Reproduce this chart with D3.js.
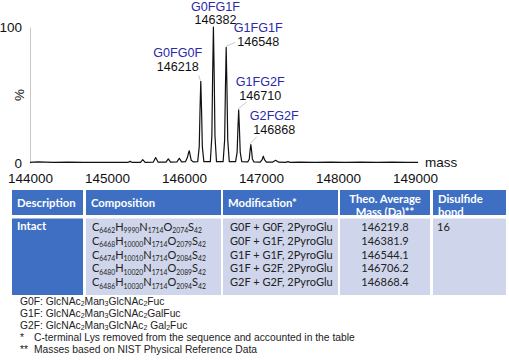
<!DOCTYPE html>
<html><head><meta charset="utf-8">
<script src="https://cdn.jsdelivr.net/npm/d3@7"></script>
<style>body{margin:0;background:#fff}svg{display:block}</style>
</head><body>
<svg id="c" width="509" height="360"></svg>
<script>
// ---- data ----
const xTicks = [144000, 145000, 146000, 147000, 148000, 149000];
const yTicks = [0, 100];
// spectrum points [mass, relative intensity %]
const spectrum = [
  [144000,0.5],[144100,0.8],[144300,0.4],[144500,0.6],[144700,0.4],[144900,0.5],[145100,0.4],
  [145270,0.4],[145300,1.2],[145330,0.4],
  [145435,0.5],[145464,2.5],[145495,0.5],
  [145600,0.6],[145632,4],[145664,0.6],
  [145766,0.6],[145796,3],[145826,0.7],
  [145909,0.8],[145939,3.5],[145969,0.8],
  [146019,1],[146044,4],[146059,7.5],[146069,9],[146079,6],[146094,2],[146119,0.8],
  [146178,1],[146198,12],[146208,39],[146218,60],[146228,39],[146238,12],[146258,1],
  [146342,1],[146362,20],[146372,65],[146382,100],[146392,65],[146402,20],[146422,1],
  [146508,1],[146528,17],[146538,55],[146548,85],[146558,55],[146568,17],[146588,1],
  [146670,1],[146690,8],[146700,25],[146710,39],[146720,25],[146730,8],[146750,1],
  [146828,0.8],[146848,3],[146858,9],[146868,13.5],[146878,9],[146888,3],[146908,0.8],
  [146990,0.7],[147015,2.5],[147030,5],[147045,2.5],[147070,0.7],
  [147150,0.6],[147190,2],[147230,0.6],
  [147320,0.5],[147350,1],[147380,0.5],
  [147500,0.6],[147700,0.4],[147900,0.7],[148100,0.5],[148300,0.6],[148500,0.4],
  [148700,0.6],[148900,0.5],[149040,0.5]
];
const peakNames  = ["G0FG0F","G0FG1F","G1FG1F","G1FG2F","G2FG2F"];
const peakMasses = [146218, 146382, 146548, 146710, 146868];
const peakHeights = [60, 100, 85, 39, 13.5];

const headers = [["Description"],["Composition"],["Modification*"],["Theo. Average","Mass (Da)**"],["Disulfide","bond"]];
const description = "Intact";
const compositions = [
  [["C","6462"],["H","9990"],["N","1714"],["O","2074"],["S","42"]],
  [["C","6468"],["H","10000"],["N","1714"],["O","2079"],["S","42"]],
  [["C","6474"],["H","10010"],["N","1714"],["O","2084"],["S","42"]],
  [["C","6480"],["H","10020"],["N","1714"],["O","2089"],["S","42"]],
  [["C","6486"],["H","10030"],["N","1714"],["O","2094"],["S","42"]]
];
const modifications = ["G0F + G0F, 2PyroGlu","G0F + G1F, 2PyroGlu","G1F + G1F, 2PyroGlu","G1F + G2F, 2PyroGlu","G2F + G2F, 2PyroGlu"];
const theoMasses = ["146219.8","146381.9","146544.1","146706.2","146868.4"];
const disulfide = "16";
// footnotes: segments [text, isSubscript]
const footnotes = [
  {mark:"", parts:[["G0F: GlcNAc",0],["2",1],["Man",0],["3",1],["GlcNAc",0],["2",1],["Fuc",0]]},
  {mark:"", parts:[["G1F: GlcNAc",0],["2",1],["Man",0],["3",1],["GlcNAc",0],["2",1],["GalFuc",0]]},
  {mark:"", parts:[["G2F: GlcNAc",0],["2",1],["Man",0],["3",1],["GlcNAc",0],["2",1],["\u00a0Gal",0],["2",1],["Fuc",0]]},
  {mark:"*", parts:[["C-terminal Lys removed from the sequence and accounted in the table",0]]},
  {mark:"**", parts:[["Masses based on NIST Physical Reference Data",0]]}
];

// ---- drawing ----
const svg = d3.select("#c");
const AX = "'Liberation Sans', Arial, sans-serif";
const TB = "Lato, 'Open Sans', sans-serif";
const x = d3.scaleLinear().domain([144000,149000]).range([30,415]);
const y = d3.scaleLinear().domain([0,100]).range([163,27]);

// helper: text with subscript segments, shifting baseline on the real glyph tspans
function subText(t, parts, big, small, shift) {
  let cur = 0;
  parts.forEach(([s,sub])=>{
    const target = sub ? shift : 0;
    t.append("tspan").attr("font-size", sub ? small : big).attr("dy", target - cur).text(s);
    cur = target;
  });
}

// y axis
const ya = svg.append("g").attr("transform","translate(30,0)")
  .call(d3.axisLeft(y).tickValues(yTicks).tickSize(0).tickPadding(8));
ya.select(".domain").attr("stroke","#c8c8c8").attr("stroke-width",1);
ya.selectAll("text").attr("font-family",AX).attr("font-size",13.5).attr("fill","#111").attr("dy","0.35em");
svg.append("text").attr("transform","translate(24,95) rotate(-90)").attr("text-anchor","middle")
  .attr("font-family",AX).attr("font-size",13.5).attr("fill","#111").text("%");

// x axis (labels only)
const xa = svg.append("g").attr("transform","translate(0,163)")
  .call(d3.axisBottom(x).tickValues(xTicks).tickSize(0).tickPadding(10).tickFormat(d3.format("d")));
xa.select(".domain").remove();
xa.selectAll("text").attr("font-family",AX).attr("font-size",13.5).attr("fill","#111");
svg.append("text").attr("x",425).attr("y",167).attr("font-family",AX).attr("font-size",13.5)
  .attr("fill","#111").text("mass");

// spectrum
svg.append("path").datum(spectrum)
  .attr("d", d3.line().x(d=>x(d[0])).y(d=>y(d[1])))
  .attr("fill","none").attr("stroke","#111").attr("stroke-width",1.2).attr("stroke-linejoin","round");

// peak labels (offsets from peak apex: dx, name baseline dy, mass baseline dy)
const labOff = [[-23,-24,-10],[2,-16.5,-3],[32,-15,-1],[21.5,-23.5,-9.5],[23.5,-24.5,-10.5]];
const leaders = [[[-2,-6]],[],[[9,-5]],[[8,-8]],[[6,-8]]];
peakNames.forEach((n,i)=>{
  const px = x(peakMasses[i]), py = y(peakHeights[i]);
  const o = labOff[i];
  if (leaders[i].length) {
    const l = leaders[i][0];
    svg.append("line").attr("x1",px-0.5).attr("y1",py-1).attr("x2",px+l[0]).attr("y2",py+l[1])
      .attr("stroke","#bdbdbd").attr("stroke-width",0.8);
  }
  svg.append("text").attr("x",px+o[0]).attr("y",py+o[1]).attr("text-anchor","middle")
    .attr("font-family",AX).attr("font-size",12.6).attr("fill","#2a2aa8").text(n);
  svg.append("text").attr("x",px+o[0]).attr("y",py+o[2]).attr("text-anchor","middle")
    .attr("font-family",AX).attr("font-size",12.6).attr("fill","#111").text(peakMasses[i]);
});

// table
const colX = [12, 86, 223, 340, 433];
const colW = [71, 135, 115, 90, 73];
const hdrY = 190, hdrH = 25, bodyY = 218.5, bodyH = 76.5;
const DARK = "#3e6fc2", LIGHT = "#cfd5ea";
const defs = svg.append("defs");
headers.forEach((h,i)=>{
  defs.append("clipPath").attr("id","hc"+i).append("rect")
    .attr("x",colX[i]).attr("y",hdrY).attr("width",colW[i]).attr("height",hdrH);
  svg.append("rect").attr("x",colX[i]).attr("y",hdrY).attr("width",colW[i]).attr("height",hdrH).attr("fill",DARK);
  const g = svg.append("g").attr("clip-path","url(#hc"+i+")");
  const center = h.length > 1 && i === 3;
  h.forEach((line,j)=>{
    const yy = h.length > 1 ? hdrY + 12.5 + j*13.5 : hdrY + 17;
    g.append("text").attr("x", center ? colX[i]+colW[i]/2 : colX[i]+5).attr("y",yy)
      .attr("text-anchor", center ? "middle":"start")
      .attr("font-family",TB).attr("font-weight",700).attr("font-size",11.3).attr("fill","#fff").text(line);
  });
  svg.append("rect").attr("x",colX[i]).attr("y",bodyY).attr("width",colW[i]).attr("height",bodyH)
    .attr("fill", i===0 ? DARK : LIGHT);
});
svg.append("text").attr("x",colX[0]+5).attr("y",bodyY+11).attr("font-family",TB).attr("font-weight",700)
  .attr("font-size",11.3).attr("fill","#fff").text(description);
const rowY = i => bodyY + 12.5 + i*13.8;
compositions.forEach((c,i)=>{
  const t = svg.append("text").attr("x",colX[1]+6).attr("y",rowY(i)).attr("font-family",TB)
    .attr("font-size",11).attr("fill","#222");
  const parts = [];
  c.forEach(([el,n])=>{ parts.push([el,0]); parts.push([n,1]); });
  subText(t, parts, 11, 6.8, 2.3);
});
modifications.forEach((m,i)=>{
  svg.append("text").attr("x",colX[2]+7).attr("y",rowY(i)).attr("font-family",TB)
    .attr("font-size",11).attr("fill","#222").text(m);
});
theoMasses.forEach((m,i)=>{
  svg.append("text").attr("x",colX[3]+colW[3]/2).attr("y",rowY(i)).attr("text-anchor","middle")
    .attr("font-family",TB).attr("font-size",11).attr("fill","#222").text(m);
});
svg.append("text").attr("x",colX[4]+4).attr("y",rowY(0)).attr("font-family",TB)
  .attr("font-size",11).attr("fill","#222").text(disulfide);

// footnotes
footnotes.forEach((f,i)=>{
  const yy = 304.5 + i*12;
  if (f.mark) svg.append("text").attr("x",20).attr("y",yy).attr("font-family",AX)
    .attr("font-size",10.3).attr("fill","#222").text(f.mark);
  const t = svg.append("text").attr("x", f.mark ? 34 : 20).attr("y",yy).attr("font-family",AX)
    .attr("font-size",10.3).attr("fill","#222");
  subText(t, f.parts, 10.3, 7, 1.6);
});
</script>
</body></html>
